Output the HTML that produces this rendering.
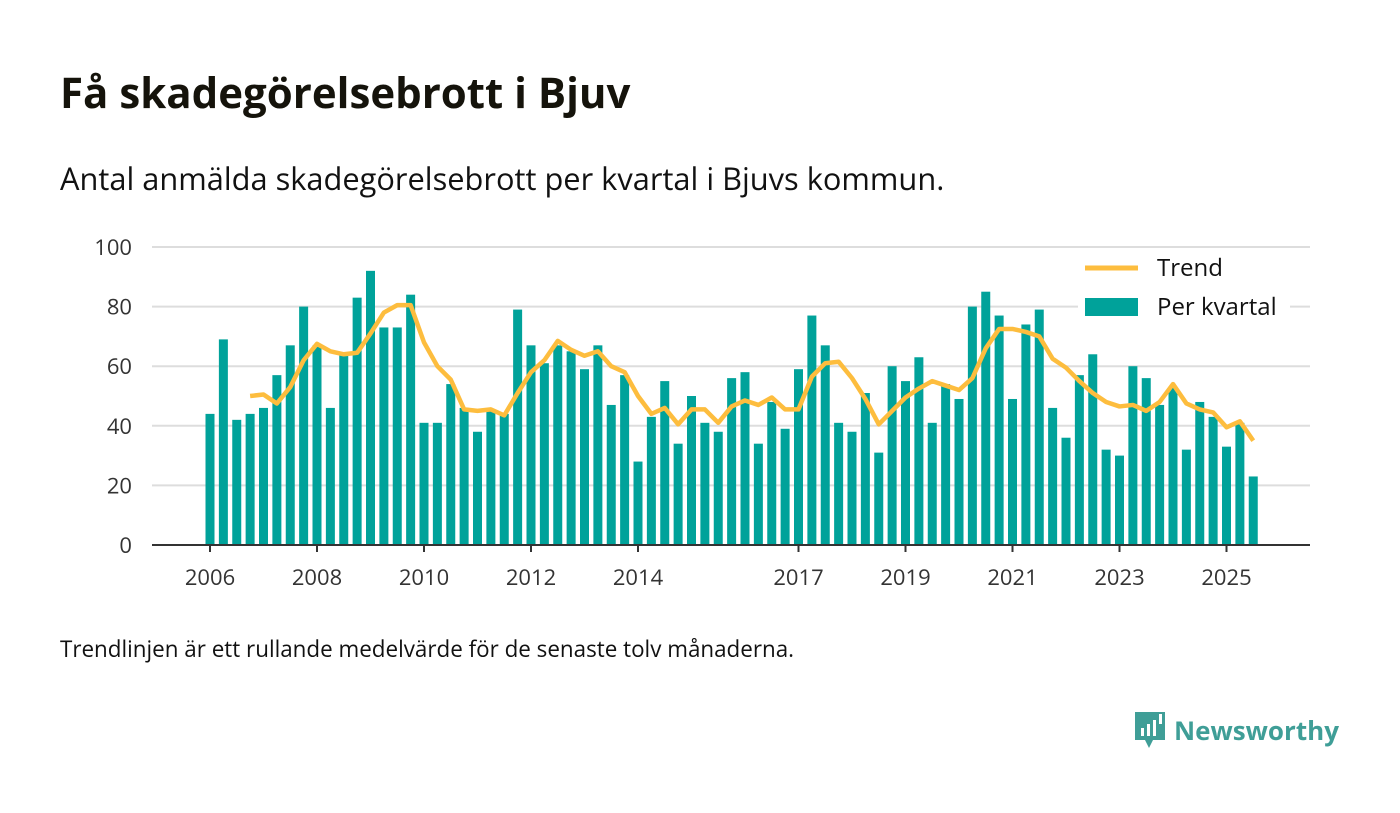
<!DOCTYPE html>
<html><head><meta charset="utf-8"><style>
body{margin:0;width:1400px;height:813px;background:#fff;font-family:"Open Sans","Liberation Sans",sans-serif;color:#111;overflow:hidden;position:relative}
.t{position:absolute;white-space:nowrap}
svg text{font-family:"Open Sans","Liberation Sans",sans-serif}
</style></head><body>
<div class="t" style="left:60px;top:64px;font-size:42px;font-weight:bold;color:#15130b">Få skadegörelsebrott i Bjuv</div>
<div class="t" style="left:60px;top:158px;font-size:30.8px">Antal anmälda skadegörelsebrott per kvartal i Bjuvs kommun.</div>
<svg id="c" width="1400" height="813" style="position:absolute;left:0;top:0"></svg>
<div class="t" style="left:60px;top:633px;font-size:22.4px">Trendlinjen är ett rullande medelvärde för de senaste tolv månaderna.</div>
<div style="position:absolute;left:1133px;top:710px;display:flex;align-items:center">
<svg width="34" height="40" viewBox="0 0 34 40"><path d="M2 2h30v28H20l-4 8-4-8H2z" fill="#3f9e97"/><rect x="8" y="18" width="3" height="8" fill="#fff"/><rect x="14" y="14" width="3" height="12" fill="#fff"/><rect x="20" y="10" width="3" height="16" fill="#fff"/><rect x="26" y="4" width="3" height="10" fill="#fff"/></svg>
<span style="font-size:26px;font-weight:bold;color:#3f9e97;margin-left:7px">Newsworthy</span></div>
<script>
const values=[44,69,42,44,46,57,67,80,67,46,64,83,92,73,73,84,41,41,54,46,38,45,44,79,67,61,67,65,59,67,47,57,28,43,55,34,50,41,38,56,58,34,48,39,59,77,67,41,38,51,31,60,55,63,41,54,49,80,85,77,49,74,79,46,36,57,64,32,30,60,56,47,53,32,48,43,33,41,23];
const trend=[null,null,null,50,50.5,47.5,53,62,67.5,65,64,64.5,71,78,80.5,80.5,68,60,55.5,45.5,45,45.5,43.5,51,58,62,68.5,65.5,63.5,65,60,58,50,44,46,40.5,45.5,45.5,41,46.5,48.5,47,49.5,45.5,45.5,56.5,61,61.5,56,49,40.5,45,49.5,52.5,55,53.5,52,56,66,72.5,72.5,71.5,70,62.5,59.5,55,51,48,46.5,47,45,48,54,47.5,45.5,44.5,39.5,41.5,35];
const yTicks=[0,20,40,60,80,100];
const xTickYears=[2006,2008,2010,2012,2014,2017,2019,2021,2023,2025];
const svg=document.getElementById('c');const NS='http://www.w3.org/2000/svg';
const x=i=>210+i*13.375, y=v=>545-v*2.98;
function mk(t,a){const e=document.createElementNS(NS,t);for(const k in a)e.setAttribute(k,a[k]);svg.appendChild(e);return e;}
yTicks.forEach(v=>{if(v>0){const g=mk('line',{x1:152,x2:1310,y1:y(v),y2:y(v),stroke:'#ddd','stroke-width':2});

}
const t=mk('text',{x:132,y:y(v)+8,'text-anchor':'end','font-size':22,fill:'#333'});t.textContent=v;

});
values.forEach((v,i)=>{const r=mk('rect',{x:x(i)-4.5,y:y(v),width:9,height:v*2.98,fill:'#00a29a'});

});
const ax=mk('line',{x1:152,x2:1310,y1:545,y2:545,stroke:'#333','stroke-width':2});


xTickYears.forEach(yr=>{const i=(yr-2006)*4;mk('line',{x1:x(i),x2:x(i),y1:545,y2:552,stroke:'#333','stroke-width':2});
const t=mk('text',{x:x(i),y:585,'text-anchor':'middle','font-size':22,fill:'#333'});t.textContent=yr;

});
let d='';trend.forEach((v,i)=>{if(v!=null)d+=(d?'L':'M')+x(i)+' '+y(v);});
const p=mk('path',{d:d,fill:'none',stroke:'#fdbd3e','stroke-width':4.5,'stroke-linejoin':'round'});


const lb=mk('rect',{x:1078,y:248,width:212,height:78,fill:'#fff'});


mk('line',{x1:1085,x2:1138,y1:268,y2:268,stroke:'#fdbd3e','stroke-width':5});
mk('rect',{x:1085,y:298,width:53,height:18,fill:'#00a29a'});
const l1=mk('text',{x:1157,y:276,'font-size':24,fill:'#111'});l1.textContent='Trend';


const l2=mk('text',{x:1157,y:315,'font-size':24,fill:'#111'});l2.textContent='Per kvartal';


</script>
</body></html>
